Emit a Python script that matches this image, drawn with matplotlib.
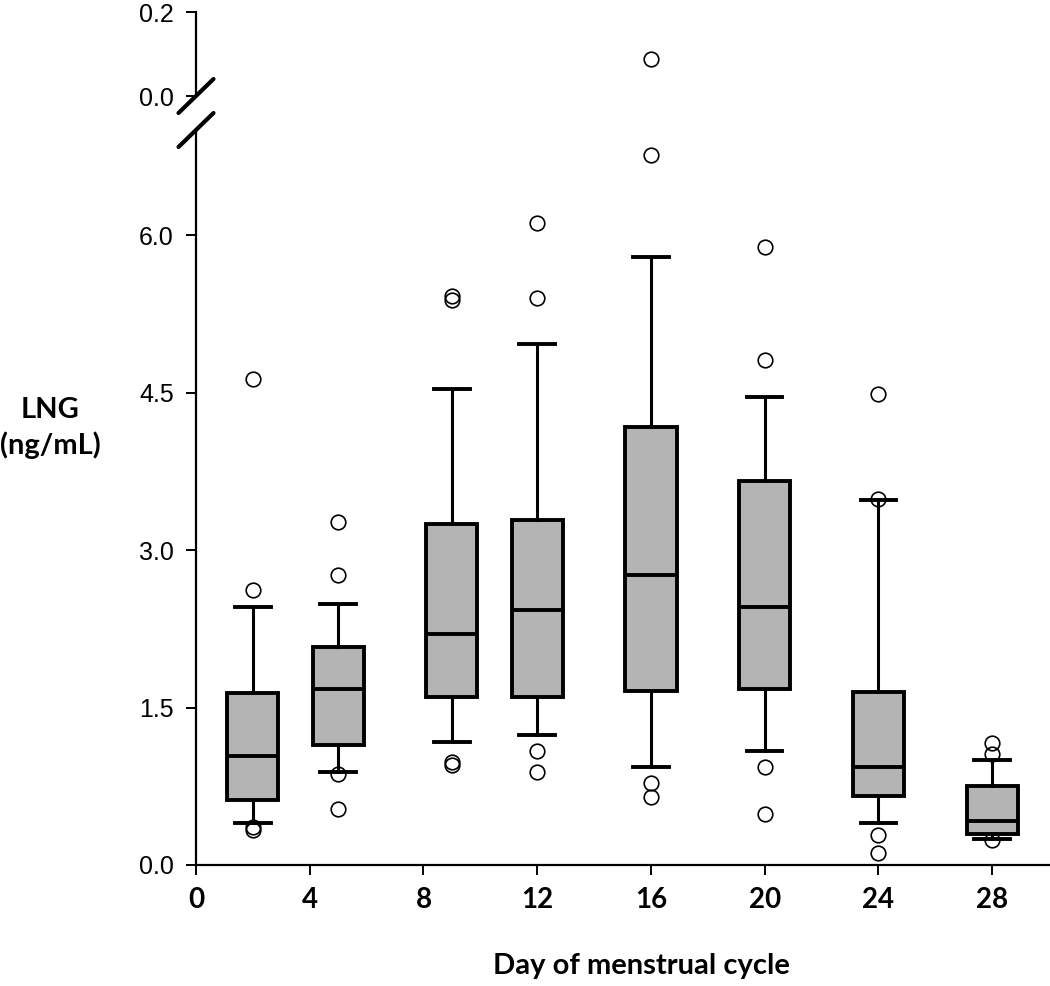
import matplotlib
matplotlib.use("Agg")
from matplotlib import pyplot as plt
from matplotlib.lines import Line2D

# data (LNG, ng/mL)
days = [2, 5, 9, 12, 16, 20, 24, 28]
q1 = [0.62, 1.14, 1.60, 1.60, 1.66, 1.68, 0.66, 0.30]
med = [1.04, 1.68, 2.20, 2.43, 2.76, 2.46, 0.93, 0.42]
q3 = [1.64, 2.08, 3.25, 3.29, 4.17, 3.66, 1.65, 0.75]
whislo = [0.40, 0.885, 1.17, 1.24, 0.935, 1.085, 0.40, 0.245]
whishi = [2.46, 2.49, 4.53, 4.96, 5.79, 4.46, 3.48, 1.00]
fliers = [
    [0.365, 0.333, 2.62, 4.63],
    [0.87, 0.53, 2.76, 3.27],
    [0.98, 0.95, 5.42, 5.38],
    [1.09, 0.89, 6.11, 5.40],
    [0.78, 0.65, 6.76],
    [0.93, 0.49, 4.81, 5.89],
    [0.285, 0.117, 3.49, 4.49],
    [1.16, 1.056, 0.24],
]
# outlier above the axis break (upper segment scale)
top_days = [16]
top_vals = [0.088]

xticks = [0, 4, 8, 12, 16, 20, 24, 28]
yticks_low = [0.0, 1.5, 3.0, 4.5, 6.0]
yticks_top = [0.0, 0.2]

W, H = 1050, 986
fig = plt.figure(figsize=(W / 100, H / 100), dpi=100)

ax = fig.add_axes([196 / W, 1 - 865 / H, (1049 - 196) / W, (865 - 130) / H])
ax_top = fig.add_axes([196 / W, 1 - 96 / H, (1049 - 196) / W, (96 - 12) / H])

stats = []
for i in range(len(days)):
    stats.append(dict(med=med[i], q1=q1[i], q3=q3[i],
                      whislo=whislo[i], whishi=whishi[i], fliers=fliers[i]))

flier_style = dict(marker='o', markersize=10.5, markerfacecolor='none',
                   markeredgecolor='black', markeredgewidth=1.2, linestyle='none')

ax.bxp(stats, positions=days, widths=1.8, capwidths=1.25, patch_artist=True,
       manage_ticks=False,
       boxprops=dict(facecolor='#b4b4b4', edgecolor='black', linewidth=2.8),
       medianprops=dict(color='black', linewidth=2.8),
       whiskerprops=dict(color='black', linewidth=2.2),
       capprops=dict(color='black', linewidth=2.8),
       flierprops=flier_style)

ax_top.plot(top_days, top_vals, **flier_style)

tick_font = dict(family='Liberation Sans', size=18)
xtick_font = dict(family='Lato', weight='bold', size=20)
lab_font = dict(family='Lato', weight='bold', size=21)

ax.set_xlim(0, 30)
ax.set_ylim(0, 7)
ax.set_xticks(xticks)
ax.set_xticklabels([str(t) for t in xticks], fontdict=xtick_font)
ax.set_yticks(yticks_low)
ax.set_yticklabels(['%.1f' % t for t in yticks_low], fontdict=tick_font)
ax.spines['top'].set_visible(False)
ax.spines['right'].set_visible(False)
for s in ['left', 'bottom']:
    ax.spines[s].set_linewidth(1.6)
ax.tick_params(direction='out', length=7, width=1.4, pad=9)

ax_top.set_xlim(0, 30)
ax_top.set_ylim(0, 0.2)
ax_top.set_yticks(yticks_top)
ax_top.set_yticklabels(['%.1f' % t for t in yticks_top], fontdict=tick_font)
ax_top.set_xticks([])
for s in ['top', 'right', 'bottom']:
    ax_top.spines[s].set_visible(False)
ax_top.spines['left'].set_linewidth(1.6)
ax_top.tick_params(direction='out', length=7, width=1.4, pad=9)
ax_top.patch.set_alpha(0)

# axis break marks
for axis, corner in [(ax_top, 0.0), (ax, 1.0)]:
    pos = axis.get_position()
    cx, cy = pos.x0, pos.y0 + corner * pos.height
    dx, dy = 17.5 / W, 17 / H
    fig.add_artist(Line2D([cx - dx, cx + dx], [cy - dy, cy + dy],
                          transform=fig.transFigure, color='black',
                          linewidth=3, solid_capstyle='round'))

fig.text(641 / W, 1 - 966 / H, 'Day of menstrual cycle', ha='center',
         va='center', **lab_font)
fig.text(50 / W, 1 - 428 / H, 'LNG\n(ng/mL)', ha='center', va='center',
         linespacing=1.35, **lab_font)

fig.savefig('out.png', dpi=100)
